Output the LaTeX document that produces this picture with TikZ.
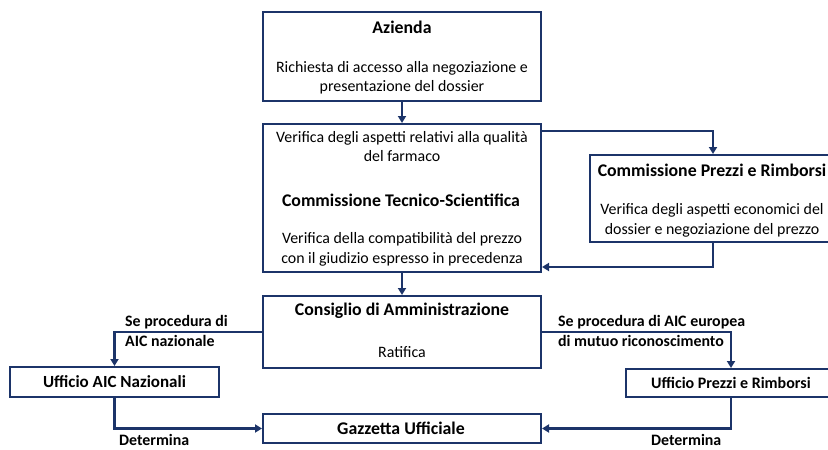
\documentclass[tikz,border=0pt]{standalone}
\usepackage{fontspec}
\setmainfont{Carlito}
\usetikzlibrary{arrows.meta}
\definecolor{navy}{RGB}{28,52,105}
\begin{document}
\begin{tikzpicture}[x=1pt,y=-1pt,
  box/.style={draw=navy,line width=2pt,fill=white,inner sep=0pt},
  arr/.style={draw=navy,line width=2.4pt,-{Triangle[length=7pt,width=8pt]}},
  txt/.style={inner sep=0pt,align=center,font=\fontsize{15.9}{19.4}\selectfont},
  ttl/.style={inner sep=0pt,align=center,font=\fontsize{17.8}{21}\selectfont\bfseries},
  lbl/.style={inner sep=0pt,align=left,font=\fontsize{15.9}{19.4}\selectfont\bfseries}]
\useasboundingbox (0,0) rectangle (828,450);
\begin{scope}
\clip (0,0) rectangle (828,450);
% boxes
\node[box,minimum width=278pt,minimum height=89pt] (az) at (402,56.5) {};
\node[box,minimum width=278pt,minimum height=148pt] (cts) at (402,198) {};
\node[box,minimum width=246pt,minimum height=87pt] (cpr) at (713,198.5) {};
\node[box,minimum width=278pt,minimum height=72pt] (cons) at (402,332) {};
\node[box,minimum width=209pt,minimum height=30pt] (uaic) at (114.5,382) {};
\node[box,minimum width=210pt,minimum height=28pt] (upr) at (731,383) {};
\node[box,minimum width=278pt,minimum height=29pt] (gu) at (402,428.5) {};
% connectors
\draw[arr] (az.south) -- (cts.north);
\draw[arr] ([yshift=-8pt]cts.north east) -| (cpr.north);
\draw[arr] (cpr.south) |- ([yshift=6pt]cts.south east);
\draw[arr] (cts.south) -- (cons.north);
\draw[arr] (cons.west) -| (uaic.north);
\draw[arr] (cons.east) -| (upr.north);
\draw[arr] (uaic.south) |- (gu.west);
\draw[arr] (upr.south) |- (gu.east);
% texts
\node[ttl] (t1) at (402,27) {Azienda};
\node[txt] (t2) at (402,77.5) {Richiesta di accesso alla negoziazione e\\presentazione del dossier};
\node[txt] (t3) at (402,146.5) {Verifica degli aspetti relativi alla qualità\\del farmaco};
\node[ttl] (t4) at (401,200) {Commissione Tecnico-Scientifica};
\node[txt] (t5) at (402,249.5) {Verifica della compatibilità del prezzo\\con il giudizio espresso in precedenza};
\node[ttl] (t6) at (712,170) {Commissione Prezzi e Rimborsi};
\node[txt] (t7) at (712,220.5) {Verifica degli aspetti economici del\\dossier e negoziazione del prezzo};
\node[ttl] (t8) at (402,311) {Consiglio di Amministrazione};
\node[txt] (t9) at (402,352) {Ratifica};
\node[ttl,font=\fontsize{17}{20}\selectfont\bfseries] (t10) at (114.5,382) {Ufficio AIC Nazionali};
\node[ttl,font=\fontsize{16}{19}\selectfont\bfseries] (t11) at (731,383) {Ufficio Prezzi e Rimborsi};
\node[ttl] (t12) at (401,428.5) {Gazzetta Ufficiale};
\node[lbl,anchor=west] (l1) at (125,331) {Se procedura di\\AIC nazionale};
\node[lbl,anchor=west] (l2) at (558,331) {Se procedura di AIC europea\\di mutuo riconoscimento};
\node[lbl,anchor=west] (l3) at (119,440) {Determina};
\node[lbl,anchor=west] (l4) at (651,440) {Determina};
\end{scope}
\end{tikzpicture}
\end{document}
